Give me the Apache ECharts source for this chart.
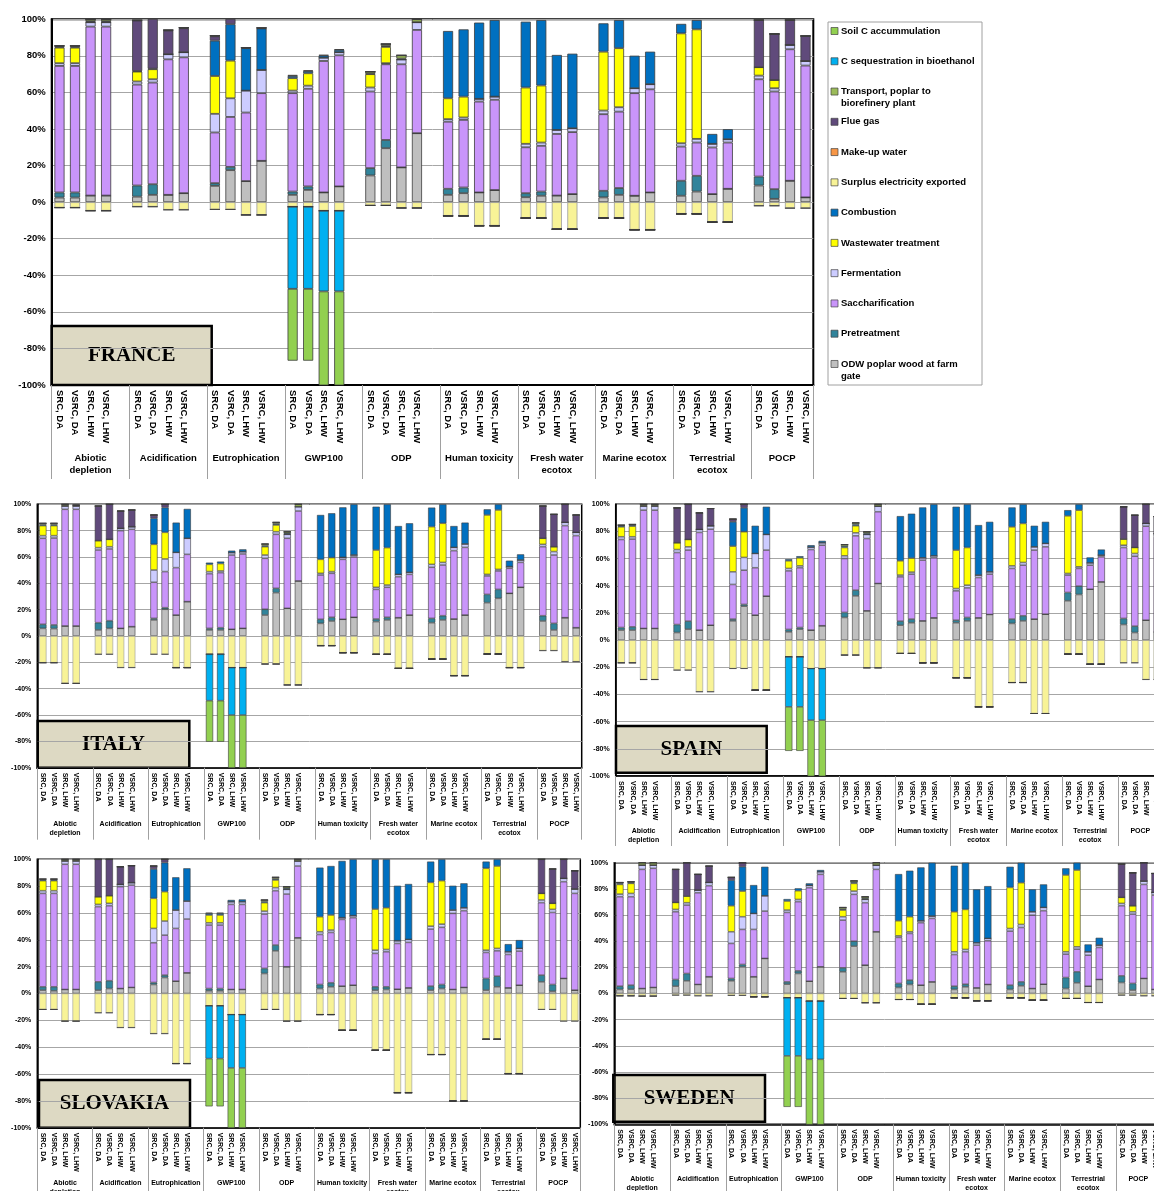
<!DOCTYPE html>
<html>
<head>
<meta charset="utf-8">
<title>Process contributions by impact category</title>
<script src="https://cdn.jsdelivr.net/npm/echarts@6.0.0/dist/echarts.min.js"></script>
<style>
  html, body { margin: 0; padding: 0; background: #fff; }
  #chart { width: 1154px; height: 1191px; }
</style>
</head>
<body>
<div id="chart"></div>
<script>
// axis categories
const impactCategories = ['Abiotic\ndepletion', 'Acidification', 'Eutrophication', 'GWP100', 'ODP',
  'Human toxicity', 'Fresh water\necotox', 'Marine ecotox', 'Terrestrial\necotox', 'POCP'];
const scenarios = ['SRC, DA', 'VSRC, DA', 'SRC, LHW', 'VSRC, LHW'];
const countries = ['FRANCE', 'ITALY', 'SPAIN', 'SLOVAKIA', 'SWEDEN'];

// processes, in stacking order (bottom first)
const processNames = ['ODW poplar wood at farm\ngate', 'Pretreatment', 'Saccharification', 'Fermentation',
  'Wastewater treatment', 'Combustion', 'Surplus electricity exported', 'Make-up water', 'Flue gas',
  'Transport, poplar to\nbiorefinery plant', 'C sequestration in bioethanol', 'Soil C accummulation'];
const processColors = ['#BFBFBF', '#31849B', '#C995FA', '#CCCCFF', '#FFFF00', '#0070C0',
  '#F8F397', '#F79646', '#604A7B', '#9BBB59', '#00B0F0', '#92D050'];

// values in %, 10 impact categories x 4 scenarios
// FRANCE
const frOdw = [2.5,2.5,3.6,3.6, 3,4,4,4.9, 8.9,17.5,11.5,22.6, 4,6.7,5.3,8.6, 14.6,29.5,19,37.7, 4,4.9,5.3,6.6, 2.7,3.5,3.6,4.4, 2.6,4,3.5,5.3, 3.5,5.8,4.4,7.3, 9.1,1.8,11.7,2.6];
const frPre = [2.8,2.8,0,0, 6.1,5.8,0,0, 1.5,1.8,0,0, 1.8,1.9,0,0, 4,4.5,0,0, 3.3,3.1,0,0, 2.2,2.3,0,0, 3.6,3.7,0,0, 8.2,8.6,0,0, 4.9,5.3,0,0];
const frSac = [69.2,69.2,92.4,92.4, 55.2,55.6,74.1,74.3, 27.7,27.3,37.5,37, 53.8,53.4,71.9,71.7, 41.9,41.4,56.4,56.5, 36.7,37,49.7,49.4, 25.1,25,33.7,33.9, 41.9,41.8,56.1,56.4, 18.7,18.2,25.5,25.3, 53.2,53.4,71.9,72.1];
const frFer = [1.5,1.5,2.4,2.4, 1.7,1.8,2.8,2.8, 10.2,10.2,12,12.7, 1.4,1.7,1.8,1.7, 2.2,0.6,2.6,4.2, 1.4,1.3,1.5,1.7, 1.9,1.8,2.2,2.1, 2,2.4,2.7,2.8, 1.8,2,2,1.8, 2,1.8,2.4,2.5];
const frWw = [8.5,8.5,0,0, 5.4,5.5,0,0, 20.7,20.6,0,0, 6.8,6.8,0,0, 7.3,8.9,0,0, 11.4,11.4,0,0, 30.8,31.2,0,0, 32.2,32.3,0,0, 60.1,59.9,0,0, 4.6,4.5,0,0];
const frComb = [0.5,0.5,0.5,0.5, 0.3,0.3,0,0, 19.3,19.9,23.2,22.7, 1.2,1.2,1.2,1.3, 0.3,0.5,0.5,0, 36.8,36.8,41.7,41.9, 36,35.8,41,40.8, 15.5,15.4,17.8,17.8, 5.2,5.1,5.4,5.5, 0,0,0,0];
const frSurplus = [-3,-3,-4.7,-4.7, -2.5,-2.5,-4.2,-4.2, -4,-4,-7,-7, -2.5,-2.5,-4.7,-4.7, -1.8,-1.8,-3.2,-3.2, -7.5,-7.5,-12.9,-12.9, -8.7,-8.7,-14.8,-14.8, -8.7,-8.7,-15.1,-15.1, -6.4,-6.4,-10.9,-10.9, -2,-2,-3.3,-3.3];
const frMakeup = [0,0,0,0, 0,0,0,0, 0,0,0,0, 0,0,0,0, 0,0,0,0, 0,0,0,0, 0,0,0,0, 0,0,0,0, 0,0,0,0, 0,0,0,0];
const frFlue = [0,0,0,0, 27.6,27.5,12.9,13.1, 2.4,3,0,0, 0,0,0,0, 0,0,0,0, 0,0,0,0, 0,0,0,0, 0,0,0,0, 0,0,0,0, 25.8,25.2,13.6,13.7];
const frTransport = [0.5,0.5,1,1, 0.2,0.2,0.3,0.3, 0.3,0,0.3,0.3, 0.6,0.4,0.3,0.3, 1.1,1.1,1.8,1.6, 0,0,0,0, 0,0,0,0, 0,0,0,0, 0,0,0,0, 0,0,0,0];
const frCseq = [0,0,0,0, 0,0,0,0, 0,0,0,0, -44.9,-44.9,-44.1,-44.1, 0,0,0,0, 0,0,0,0, 0,0,0,0, 0,0,0,0, 0,0,0,0, 0,0,0,0];
const frSoil = [0,0,0,0, 0,0,0,0, 0,0,0,0, -39.3,-39.3,-52,-52, 0,0,0,0, 0,0,0,0, 0,0,0,0, 0,0,0,0, 0,0,0,0, 0,0,0,0];

// ITALY
const itOdw = [5.8,5.6,7.6,7.6, 4.6,5.8,5.8,7.1, 12.2,20.3,15.9,26.1, 4.6,4.6,5.1,5.8, 15.9,32.9,21,41.8, 9.6,11.4,12.7,14.2, 10.9,12.2,13.9,15.9, 10.1,12.2,12.9,15.9, 25.3,28.6,32.4,37, 11.4,4.6,13.9,6.3];
const itPre = [3.1,2.8,0,0, 5.5,5.8,0,0, 1.2,1.2,0,0, 1.2,1.7,0,0, 4.4,3.3,0,0, 3.1,2.8,0,0, 2,2,0,0, 3.3,3.2,0,0, 6.3,6.8,0,0, 4,5,0,0];
const itSac = [65.3,66,88.6,88.6, 55.2,54.5,74.2,73.9, 27.4,27.4,36,35.9, 41.5,41.8,56.4,56.5, 38.7,41,53.2,53.1, 33.6,33.4,45.5,45.8, 22.5,22.8,31.1,30.9, 38.8,38.5,51.9,51.4, 14,14,19,18.9, 52.4,51.9,69.9,69.9];
const itFer = [2,1.8,2.5,2.5, 1.8,1.7,1.8,2, 9.3,9.6,11.6,12.2, 1.6,1.3,1.8,1.7, 2.5,2,3,3.3, 1.3,1.3,1.5,1.5, 1.6,1.7,1.8,1.6, 2.2,2,2.5,2.6, 1.2,1.2,1.3,1.8, 1.8,2.6,2.5,2.5];
const itWw = [7.6,7.6,0,0, 5.3,5.6,0,0, 19.5,20.2,0,0, 5.5,5.6,0,0, 6.3,5.1,0,0, 10.6,10.6,0,0, 28.3,28.4,0,0, 28.6,29.7,0,0, 45.1,45.1,0,0, 4.6,3.7,0,0];
const itComb = [0.8,0.8,0.3,0.3, 0,0,0,0, 19.8,18.8,22.6,22.3, 1.3,1.5,1.5,1.8, 0.8,0.8,0.8,0, 33.7,33.7,38,38.5, 32.9,32.9,36.7,37.2, 14.5,14.4,16.2,16.2, 4.3,4.3,4.5,4.3, 0,0,0,0];
const itSurplus = [-20.3,-20.3,-36,-36, -13.9,-13.9,-24,-24, -13.9,-13.9,-24,-24, -13.9,-13.9,-24,-24, -21.3,-21.3,-37.2,-37.2, -7.3,-7.3,-12.7,-12.7, -13.9,-13.9,-24.6,-24.6, -17.5,-17.5,-30.1,-30.1, -13.7,-13.7,-24,-24, -11.1,-11.1,-19.5,-19.5];
const itMakeup = [0,0,0,0, 0,0,0,0, 0,0,0,0, 0,0,0,0, 0,0,0,0, 0,0,0,0, 0,0,0,0, 0,0,0,0, 0,0,0,0, 0,0,0,0];
const itFlue = [0,0,0,0, 26.3,26.6,13.1,12.7, 2.5,2.5,0,0, 0,0,0,0, 0,0,0,0, 0,0,0,0, 0,0,0,0, 0,0,0,0, 0,0,0,0, 24.5,24.6,13.7,13.2];
const itTransport = [1,1,1,0.5, 0,0,0,0, 0,0,0,0, 0,0,0,0, 1.3,1.2,1.2,1.8, 0,0,0,0, 0,0,0,0, 0,0,0,0, 0,0,0,0, 0,0,0,0];
const itCseq = [0,0,0,0, 0,0,0,0, 0,0,0,0, -35.2,-35.2,-36,-36, 0,0,0,0, 0,0,0,0, 0,0,0,0, 0,0,0,0, 0,0,0,0, 0,0,0,0];
const itSoil = [0,0,0,0, 0,0,0,0, 0,0,0,0, -31.2,-31.2,-42,-42, 0,0,0,0, 0,0,0,0, 0,0,0,0, 0,0,0,0, 0,0,0,0, 0,0,0,0];

// SPAIN
const esOdw = [7.4,7.4,8.6,8.6, 5.6,8.1,7.4,11, 14.2,25,18.4,32.4, 6.1,8.1,7.4,10.6, 16.7,32.6,21.6,41.7, 11,12.8,14.2,16.4, 12.8,14.2,16.4,18.9, 12.3,14.2,15.5,19.1, 29,33.6,37.5,42.9, 11.5,5.6,14.7,6];
const esPre = [1.9,2.4,0,0, 5.9,5.9,0,0, 1.3,1.3,0,0, 1.8,1.2,0,0, 3.7,4.2,0,0, 3,2.7,0,0, 1.9,2.5,0,0, 3.2,3.7,0,0, 6.1,6.2,0,0, 4.5,4.7,0,0];
const esSac = [64.8,64.6,87.1,87.1, 53,52.3,71.9,70.7, 25.5,25.2,34.9,33.9, 43.1,44,59.3,59.3, 39.7,40,53.2,52.8, 32.6,33.1,44.7,44.2, 21.6,21.8,29.7,29.7, 37.3,37.3,50.8,49.6, 12.8,13,17.7,18.4, 52.2,51.5,69.2,70];
const esFer = [2,1.7,3,3, 2.2,2.4,2.2,2.5, 9.3,9.4,10.5,11.5, 1.8,1.4,1.8,1.8, 2,2.2,3,4.2, 1.3,1.5,1.7,1.5, 1.7,2,1.8,1.7, 1.9,2,2.4,2.5, 1.2,1.2,1.7,1.3, 1.7,2,2,2.4];
const esWw = [7.3,7.8,0,0, 5,5.4,0,0, 18.9,18.9,0,0, 5.6,5.9,0,0, 6.1,5.2,0,0, 10.5,10.3,0,0, 28.3,27.7,0,0, 28.7,28.7,0,0, 42.4,41.7,0,0, 4.5,4.4,0,0];
const esComb = [0.8,0.8,0.3,0.3, 0,0,0,0, 17.9,17.6,20.4,20.4, 1.2,1.2,1.4,1.4, 1,1,0.8,0, 32.9,32.7,37.1,37.9, 31.9,31.8,36.8,36.8, 14.3,14.1,15.5,15.9, 4.2,4.3,4,4.1, 0,0,0,0];
const esSurplus = [-16.7,-16.7,-29,-29, -22.1,-22.1,-38,-38, -20.9,-20.9,-36.8,-36.8, -12.3,-12.3,-20.9,-20.9, -11,-11,-20.4,-20.4, -9.8,-9.8,-16.7,-16.7, -27.7,-27.7,-49.1,-49.1, -31.2,-31.2,-54,-54, -10.3,-10.3,-17.7,-17.7, -16.7,-16.7,-29,-29];
const esMakeup = [0,0,0,0, 0,0,0,0, 0,0,0,0, 0,0,0,0, 0,0,0,0, 0,0,0,0, 0,0,0,0, 0,0,0,0, 0,0,0,0, 0,0,0,0];
const esFlue = [0,0,0,0, 25.7,25.9,12.2,12.7, 2,2.6,0,0, 0,0,0,0, 0,0,0,0, 0,0,0,0, 0,0,0,0, 0,0,0,0, 0,0,0,0, 23.8,23.8,14.1,12.6];
const esTransport = [0.5,0.5,1,1, 0,0,0,0, 0,0,0,0, 0,0,0,0, 1.2,1.2,1.2,1.3, 0,0,0,0, 0,0,0,0, 0,0,0,0, 0,0,0,0, 0,0,0,0];
const esCseq = [0,0,0,0, 0,0,0,0, 0,0,0,0, -36.8,-36.8,-38,-38, 0,0,0,0, 0,0,0,0, 0,0,0,0, 0,0,0,0, 0,0,0,0, 0,0,0,0];
const esSoil = [0,0,0,0, 0,0,0,0, 0,0,0,0, -32.4,-32.4,-42,-42, 0,0,0,0, 0,0,0,0, 0,0,0,0, 0,0,0,0, 0,0,0,0, 0,0,0,0];

// SLOVAKIA
const skOdw = [2.5,2,3,3, 2.5,3.7,3.7,4.5, 6.7,11.9,9.2,15.4, 2,2,3,3, 14.9,31.8,19.9,41.5, 3.7,5,5.5,6.2, 2.5,3,3.2,4.2, 2.5,3.7,3,4.5, 2.5,5,4.2,6.2, 8.7,1.7,11.2,2.5];
const skPre = [2.5,3,0,0, 6.2,5.8,0,0, 1.5,1.8,0,0, 1.7,1.7,0,0, 3.8,4.3,0,0, 3,3,0,0, 2.5,2,0,0, 3,3,0,0, 8.7,7.9,0,0, 5,5,0,0];
const skSac = [69.6,69.6,93.3,93.3, 56,55.9,75.9,76.3, 29.6,29.8,39.3,40.1, 47.3,47.3,63.4,63.4, 40.5,40.5,54.2,53.5, 37.3,37.5,49.7,50.3, 24.9,26.1,34.1,33.9, 42.5,42.6,56.7,57.2, 19.4,18.9,24.9,25.4, 54,53.7,72.1,72.1];
const skFer = [2,2,2.5,2.5, 1.7,1.8,1.7,1.8, 10.7,10.5,13.7,13.4, 1.7,1.7,2,2, 2.2,2.3,3.5,3.8, 2,1.8,1.3,1.5, 2.4,1.7,2,2.2, 2.2,2.4,2.5,2.2, 1.7,1.8,2,2, 2,2.3,2.5,3.3];
const skWw = [7.5,7.5,0,0, 5.7,5.7,0,0, 22.4,21.9,0,0, 5.8,5.8,0,0, 6.3,5.7,0,0, 11.2,11.2,0,0, 30.6,31.1,0,0, 32.6,32.4,0,0, 61,61.4,0,0, 4.9,4.5,0,0];
const skComb = [0.7,0.7,0.2,0.2, 0,0,0,0, 21.9,21.6,24.4,24.4, 1.2,1.2,1.3,1.7, 0.8,0.8,0.8,0, 36.6,36.5,42.3,42, 37.1,36.1,41,41.3, 15.5,15.9,18.1,18.2, 5,5,5.7,6.2, 0,0,0,0];
const skSurplus = [-11.9,-11.9,-20.6,-20.6, -14.4,-14.4,-25.4,-25.4, -29.9,-29.9,-52.2,-52.2, -9.2,-9.2,-15.7,-15.7, -11.9,-11.9,-20.6,-20.6, -15.7,-15.7,-27.4,-27.4, -42.3,-42.3,-73.9,-73.9, -45.5,-45.5,-80.1,-80.1, -34.1,-34.1,-59.7,-59.7, -11.9,-11.9,-20.6,-20.6];
const skMakeup = [0,0,0,0, 0,0,0,0, 0,0,0,0, 0,0,0,0, 0,0,0,0, 0,0,0,0, 0,0,0,0, 0,0,0,0, 0,0,0,0, 0,0,0,0];
const skFlue = [0,0,0,0, 27.9,27.1,13.2,12.7, 2.2,2.5,0,0, 0,0,0,0, 0,0,0,0, 0,0,0,0, 0,0,0,0, 0,0,0,0, 0,0,0,0, 25.4,25.6,14.2,13.6];
const skTransport = [0.5,0.5,1,1, 0,0,0,0, 0,0,0,0, 0.5,0.5,0,0, 1.2,1.2,1.2,1.2, 0,0,0,0, 0,0,0,0, 0,0,0,0, 0,0,0,0, 0,0,0,0];
const skCseq = [0,0,0,0, 0,0,0,0, 0,0,0,0, -39.3,-39.3,-39.8,-39.8, 0,0,0,0, 0,0,0,0, 0,0,0,0, 0,0,0,0, 0,0,0,0, 0,0,0,0];
const skSoil = [0,0,0,0, 0,0,0,0, 0,0,0,0, -35.6,-35.6,-46,-46, 0,0,0,0, 0,0,0,0, 0,0,0,0, 0,0,0,0, 0,0,0,0, 0,0,0,0];

// SWEDEN
const seOdw = [3.1,3.3,3.8,4.6, 5.6,9.7,6.9,12.8, 9.7,20.4,12.8,26.8, 7.1,15.3,9.4,20.4, 16.6,36.2,21.7,47.2, 4.6,6.9,6.4,8.9, 3.1,5.1,4.3,6.9, 3.1,5.9,3.8,7.1, 3.8,8.2,5.6,10.7, 8.4,2.6,11.5,3.1];
const sePre = [2.5,3.1,0,0, 5.1,5.6,0,0, 1.8,1.8,0,0, 1.8,2,0,0, 3,3.8,0,0, 3.1,3.3,0,0, 2.5,2,0,0, 3.3,3,0,0, 8.4,8.4,0,0, 5.1,5.1,0,0];
const seSac = [68.4,67.6,91.1,91.1, 51.8,52.3,70.1,69.6, 26.8,26.8,36.2,36.2, 53.1,52.9,71.5,70.7, 36.5,35.8,47.7,47.7, 35.2,35.7,47.7,48.5, 24.2,24.8,32.7,33.4, 41.3,41.6,56.1,56.2, 17.9,17.3,23.7,24.5, 53.6,53,71.9,72.2];
const seFer = [2,2.5,3.3,2.5, 1.8,1.8,2.1,2.5, 8.9,9.7,12.2,11.7, 1.8,1.7,1.8,2, 2.6,2.5,2.6,3.3, 1.2,1.3,1.5,1.8, 2.1,1.8,1.8,1.8, 2,2.3,2.6,2.5, 1.8,1.8,2.6,1.8, 1.8,1.8,2.6,2];
const seWw = [7.4,7.7,0,0, 5.3,5.1,0,0, 19.9,19.6,0,0, 6.9,6.7,0,0, 5.1,5.9,0,0, 11.5,11.5,0,0, 30.6,30.6,0,0, 31.4,31.9,0,0, 58.7,58.7,0,0, 4.6,4.6,0,0];
const seComb = [0.8,0.6,0,0, 0,0,0,0, 19.6,18.6,21.7,22.2, 1.5,1.8,1.5,1.3, 0.7,0.8,0.7,0, 35.7,35.2,40.8,40.8, 35.2,35.7,40.8,40, 15.8,15.3,17.1,17.6, 5.1,5.6,5.6,5.6, 0,0,0,0];
const seSurplus = [-1.8,-1.8,-2,-2, -1.3,-1.3,-1.8,-1.8, -1.5,-1.5,-2.5,-2.5, -3.3,-3.3,-5.9,-5.9, -3.8,-3.8,-7.1,-7.1, -4.6,-4.6,-8.2,-8.2, -3.3,-3.3,-5.6,-5.6, -3.3,-3.3,-5.1,-5.1, -3.8,-3.8,-6.9,-6.9, -1.3,-1.3,-1.8,-1.8];
const seMakeup = [0,0,0,0, 0,0,0,0, 0,0,0,0, 0,0,0,0, 0,0,0,0, 0,0,0,0, 0,0,0,0, 0,0,0,0, 0,0,0,0, 0,0,0,0];
const seFlue = [0,0,0,0, 25.3,25.5,12,12.5, 2.1,3.1,0,0, 0,0,0,0, 0,0,0,0, 0,0,0,0, 0,0,0,0, 0,0,0,0, 0,0,0,0, 25.5,25.2,14,14.5];
const seTransport = [0.7,0.7,1.8,1.8, 0,0,0,0, 0,0,0,0, 0,0,0,0, 1.3,1.2,1.3,1.8, 0,0,0,0, 0,0,0,0, 0,0,0,0, 0,0,0,0, 0,0,0,0];
const seCseq = [0,0,0,0, 0,0,0,0, 0,0,0,0, -44.4,-44.4,-44.4,-44.4, 0,0,0,0, 0,0,0,0, 0,0,0,0, 0,0,0,0, 0,0,0,0, 0,0,0,0];
const seSoil = [0,0,0,0, 0,0,0,0, 0,0,0,0, -39,-39,-50,-50, 0,0,0,0, 0,0,0,0, 0,0,0,0, 0,0,0,0, 0,0,0,0, 0,0,0,0];

const countryData = [
  [frOdw, frPre, frSac, frFer, frWw, frComb, frSurplus, frMakeup, frFlue, frTransport, frCseq, frSoil],
  [itOdw, itPre, itSac, itFer, itWw, itComb, itSurplus, itMakeup, itFlue, itTransport, itCseq, itSoil],
  [esOdw, esPre, esSac, esFer, esWw, esComb, esSurplus, esMakeup, esFlue, esTransport, esCseq, esSoil],
  [skOdw, skPre, skSac, skFer, skWw, skComb, skSurplus, skMakeup, skFlue, skTransport, skCseq, skSoil],
  [seOdw, sePre, seSac, seFer, seWw, seComb, seSurplus, seMakeup, seFlue, seTransport, seCseq, seSoil]
];

// panel layout (plot area in px) and label sizes
const panels = [
  { left: 51.7, top: 19.3, width: 761.6, height: 365.7, font: 9.5, lineH: 12, groupMargin: 67, tickLen: 94, border: 2, box: [51.7, 326, 160, 59] },
  { left: 37.3, top: 504.3, width: 544.4, height: 263.4, font: 7, lineH: 9, groupMargin: 52, tickLen: 72, border: 1.5, box: [37.7, 721, 151.6, 46.7] },
  { left: 615.7, top: 504.3, width: 547, height: 271.7, font: 7, lineH: 9, groupMargin: 51, tickLen: 70, border: 1.5, box: [616, 726, 150.7, 46.7] },
  { left: 37.3, top: 859.3, width: 543, height: 268.4, font: 7, lineH: 9, groupMargin: 51, tickLen: 64, border: 1.5, box: [39, 1080, 151, 47.7] },
  { left: 614.3, top: 862.7, width: 546.3, height: 261.6, font: 7, lineH: 9, groupMargin: 50, tickLen: 67, border: 1.5, box: [613.3, 1075, 151.7, 46.7] }
];

const FONT = 'Liberation Sans';

// each impact category takes 5 slots (4 bars + a gap), the last one no gap
function toSlots(values) {
  const out = [];
  values.forEach((v, i) => {
    out.push(v);
    if (i % 4 === 3 && i < values.length - 1) out.push('-');
  });
  return out;
}
const slotLabels = toSlots(impactCategories.flatMap(() => scenarios)).map(v => v === '-' ? '' : v);
const slotCount = slotLabels.length;
const groupEdges = impactCategories.map((_, g) => g * 5).concat([slotCount]);
const groupCentres = impactCategories.map((_, g) => (groupEdges[g] + groupEdges[g + 1]) / 2);

const grids = [], xAxes = [], yAxes = [], series = [];

panels.forEach((p, ci) => {
  grids.push({
    left: p.left, top: p.top, width: p.width, height: p.height,
    show: true, borderColor: '#000', borderWidth: p.border, backgroundColor: 'transparent',
    outerBoundsMode: 'none'
  });
  xAxes.push({
    gridIndex: ci, type: 'category', data: slotLabels, position: 'bottom',
    axisLine: { onZero: false, lineStyle: { color: '#000', width: p.border } },
    axisTick: { show: false },
    axisLabel: { interval: 0, rotate: -90, margin: 5, color: '#000', fontFamily: FONT, fontWeight: 'bold', fontSize: p.font }
  });
  xAxes.push({
    gridIndex: ci, type: 'value', min: 0, max: slotCount, position: 'bottom',
    axisLine: { show: false, onZero: false },
    splitLine: { show: false },
    axisTick: { show: true, customValues: groupEdges, length: p.tickLen, lineStyle: { color: '#A0A0A0', width: 1 } },
    axisLabel: {
      customValues: groupCentres, margin: p.groupMargin, color: '#000', fontFamily: FONT, fontWeight: 'bold',
      fontSize: p.font, lineHeight: p.lineH, align: 'center',
      formatter: v => impactCategories[groupCentres.indexOf(v)] || ''
    }
  });
  yAxes.push({
    gridIndex: ci, type: 'value', min: -100, max: 100, interval: 20,
    axisLine: { show: true, onZero: false, lineStyle: { color: '#000', width: p.border } },
    axisTick: { show: false },
    axisLabel: { formatter: '{value}%', color: '#000', fontFamily: FONT, fontWeight: 'bold', fontSize: p.font, margin: 6 },
    splitLine: { lineStyle: { color: '#A6A6A6', width: 1 } }
  });
  countryData[ci].forEach((values, si) => {
    series.push({
      type: 'bar',
      name: processNames[si],
      stack: countries[ci],
      xAxisIndex: ci * 2,
      yAxisIndex: ci,
      barWidth: '65%',
      data: toSlots(values),
      itemStyle: {
        color: processColors[si],
        borderColor: si === 6 ? '#9A9A9A' : '#3C3C3C',
        borderWidth: ci === 0 ? 0.8 : 0.6
      },
      emphasis: { disabled: true }
    });
  });
});

// legend drawn as a box, first text line next to each swatch
const legendItems = [];
const legendOrder = processNames.map((_, i) => processNames.length - 1 - i);
legendOrder.forEach((si, row) => {
  const cy = 9 + row * 30.27;
  legendItems.push({
    type: 'rect', shape: { x: 3, y: cy - 3.5, width: 7, height: 7 },
    style: { fill: processColors[si], stroke: '#444', lineWidth: 0.7 }
  });
  legendItems.push({
    type: 'text', x: 13, y: cy - 6,
    style: {
      text: processNames[si], fill: '#000', fontFamily: FONT, fontWeight: 'bold',
      fontSize: 9.5, lineHeight: 12, verticalAlign: 'top'
    }
  });
});

const graphic = [{
  type: 'group', x: 828, y: 22, z: 100,
  children: [{
    type: 'rect', shape: { x: 0, y: 0, width: 154, height: 363 },
    style: { fill: '#fff', stroke: '#A0A0A0', lineWidth: 1 }
  }].concat(legendItems)
}];

panels.forEach((p, ci) => {
  const [bx, by, bw, bh] = p.box;
  graphic.push({
    type: 'group', x: bx, y: by, z: 100,
    children: [
      { type: 'rect', shape: { x: 0, y: 0, width: bw, height: bh },
        style: { fill: '#DDD9C3', stroke: '#000', lineWidth: 2.5 } },
      { type: 'text', x: bw / 2, y: bh / 2,
        style: { text: countries[ci], fill: '#000', fontFamily: 'Liberation Serif', fontWeight: 'bold',
          fontSize: 21, align: 'center', verticalAlign: 'middle' } }
    ]
  });
});

const chart = echarts.init(document.getElementById('chart'), null, { renderer: 'canvas' });
chart.setOption({
  backgroundColor: '#fff',
  animation: false,
  grid: grids,
  xAxis: xAxes,
  yAxis: yAxes,
  series: series,
  graphic: graphic
});
</script>
</body>
</html>
